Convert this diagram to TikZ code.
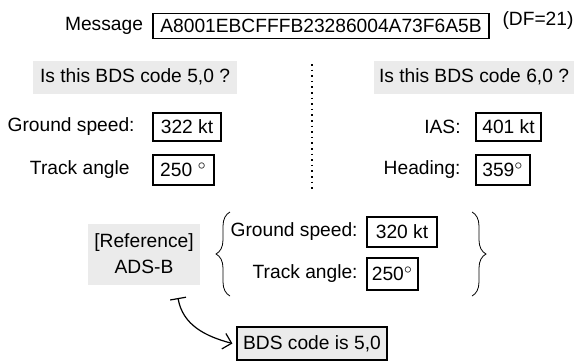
\documentclass[tikz,border=0pt]{standalone}
\usepackage{fontspec}
\setmainfont{Liberation Sans}
\usetikzlibrary{decorations.pathreplacing,arrows.meta}

\definecolor{panelgray}{RGB}{235,235,235}

\begin{document}
\begin{tikzpicture}[x=0.5pt,y=-0.5pt,font=\fontsize{9.6}{11}\selectfont,
    valbox/.style={draw,line width=0.6pt,inner sep=0pt,minimum height=14pt},
    askbox/.style={fill=panelgray,inner sep=0pt,minimum height=16.5pt},
    lbl/.style={anchor=east,inner sep=0pt}]
  \useasboundingbox (0,0) rectangle (574,360);
  \pgfmathsetmacro\rowa{127}
  \pgfmathsetmacro\rowb{170}

% message on top
  \node[inner sep=0pt] (msglbl) at (104,26) {Message};
  \node[valbox,minimum width=168pt,minimum height=12.5pt] (msg) at (321,26) {A8001EBCFFFB23286004A73F6A5B};
  \node[inner sep=0pt] (df) at (538,21) {(DF=21)};

% the two guesses
  \node[askbox,minimum width=102pt] (ask50) at (135,77) {Is this BDS code 5,0 ?};
  \node[askbox,minimum width=100.5pt] (ask60) at (474,77) {Is this BDS code 6,0 ?};
  \draw[dotted,line width=0.8pt] (312,64) -- (312,190);

% BDS 5,0 decoding
  \node[lbl] (gs50) at (135,\rowa) {Ground speed:};
  \node[valbox,minimum width=34pt] (gs50v) at (187,\rowa) {322 kt};
  \node[lbl] (ta50) at (130,\rowb) {Track angle};
  \node[valbox,minimum width=30.5pt,minimum height=15pt] (ta50v) at (183.5,\rowb) {250 \textsuperscript{$\circ$}};

% BDS 6,0 decoding
  \node[lbl] (ias60) at (461,\rowa) {IAS:};
  \node[valbox,minimum width=32.5pt] (ias60v) at (508.5,\rowa) {401 kt};
  \node[lbl] (hdg60) at (461,\rowb) {Heading:};
  \node[valbox,minimum width=27pt,minimum height=15pt] (hdg60v) at (503,\rowb) {359\textsuperscript{$\circ$}};

% reference from ADS-B
  \node[askbox,minimum width=56pt,minimum height=30.5pt,align=center] (ref) at (144,254) {[Reference]\\[2pt]ADS-B};
  \node[lbl] (gsref) at (358,232) {Ground speed:};
  \node[valbox,minimum width=35pt,minimum height=15pt] (gsrefv) at (402,232) {320 kt};
  \node[lbl] (taref) at (358,274) {Track angle:};
  \node[valbox,minimum width=25.5pt,minimum height=16pt] (tarefv) at (392.5,274) {250\textsuperscript{$\circ$}};
  \draw[decorate,decoration={brace,amplitude=7pt}] (230,296) -- (230,212);
  \draw[decorate,decoration={brace,amplitude=7pt}] (472,212) -- (472,296);

% conclusion
  \node[askbox,draw,line width=0.6pt,minimum width=75pt] (res) at (312,343.5) {BDS code is 5,0};
  \coordinate (tail) at (178,298);
  \draw[{Bar[width=8pt]}-{Straight Barb[length=4pt,width=8pt]},line width=0.6pt]
    (tail) to[out=-80,in=165] ([xshift=-2pt]res.west);
\end{tikzpicture}
\end{document}
